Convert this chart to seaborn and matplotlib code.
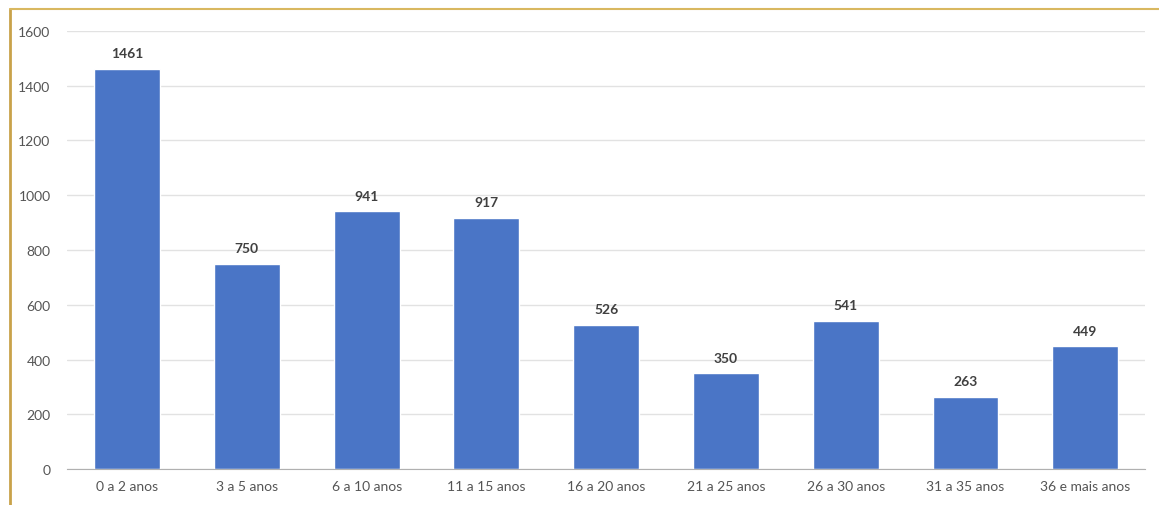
import numpy as np
import pandas as pd
import matplotlib
matplotlib.use("Agg")
import matplotlib.pyplot as plt
import seaborn as sns

# Faixas etárias e contagens
faixas = ["0 a 2 anos", "3 a 5 anos", "6 a 10 anos", "11 a 15 anos",
          "16 a 20 anos", "21 a 25 anos", "26 a 30 anos", "31 a 35 anos",
          "36 e mais anos"]
contagens = [1461, 750, 941, 917, 526, 350, 541, 263, 449]

data = pd.DataFrame({"faixa": faixas, "n": contagens})

sns.set_style("white")
plt.rcParams["font.family"] = ["Lato", "DejaVu Sans"]

fig = plt.figure(figsize=(11.59, 5.06), dpi=100)
ax = fig.add_axes([0.058, 0.071, 0.93, 0.866])

sns.barplot(data=data, x="faixa", y="n", color="#4a75c6", width=0.55,
            saturation=1, ax=ax)

for i, v in enumerate(contagens):
    ax.text(i, v + 35, str(v), ha="center", va="bottom", fontsize=10,
            fontweight="bold", color="#404040")

ax.set_ylim(0, 1600)
ax.set_yticks(range(0, 1601, 200))
ax.set_xlim(-0.5, len(faixas) - 0.5)
ax.yaxis.grid(True, color="#e2e2e2", linewidth=1)
ax.set_axisbelow(True)
ax.set_xlabel("")
ax.set_ylabel("")
ax.tick_params(axis="both", labelsize=10, colors="#555555", length=0)
ax.tick_params(axis="y", pad=12)
ax.tick_params(axis="x", pad=8)
for s in ["left", "right", "top"]:
    ax.spines[s].set_visible(False)
ax.spines["bottom"].set_color("#b0b0b0")

# moldura amarelada do scan
fig.add_artist(plt.Line2D([0.009, 0.009], [0.0, 0.98], color="#c9a24a",
                          linewidth=2, transform=fig.transFigure))
fig.add_artist(plt.Line2D([0.009, 1.0], [0.98, 0.98], color="#d9b860",
                          linewidth=1.5, transform=fig.transFigure))

fig.savefig("out.png", dpi=100)
